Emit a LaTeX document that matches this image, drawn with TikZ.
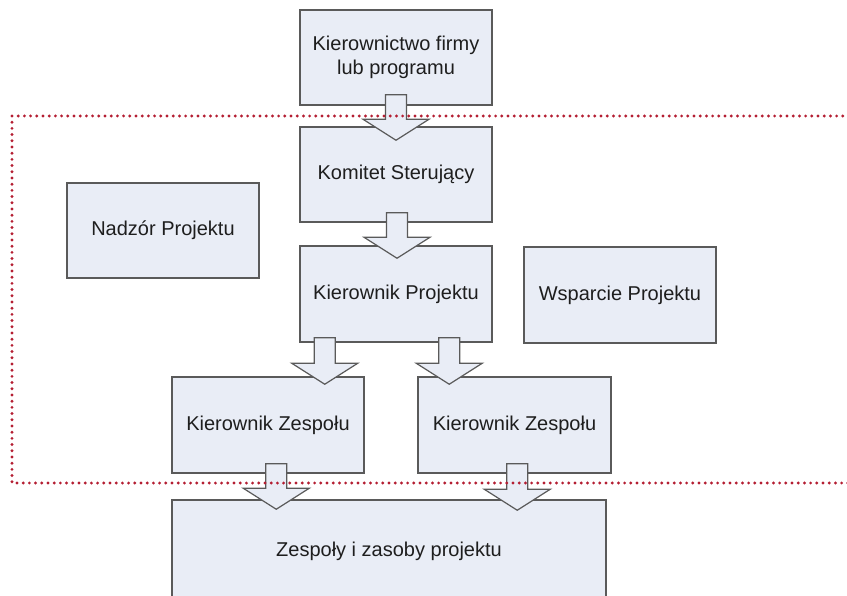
\documentclass[tikz,border=0pt]{standalone}
\usepackage{fontspec}
\setmainfont{Liberation Sans}
\usetikzlibrary{calc}
\definecolor{boxfill}{RGB}{233,237,246}
\definecolor{boxline}{RGB}{90,90,90}
\definecolor{txt}{RGB}{30,30,30}
\definecolor{dotred}{RGB}{180,30,50}
\tikzset{
  unit/.style={draw=boxline, fill=boxfill, line width=1.5pt, text=txt,
    minimum width=192pt, minimum height=95pt, inner sep=0pt,
    font=\fontsize{20}{24.5}\selectfont, align=center},
  blockarr/.style={draw=boxline, fill=boxfill, line width=1.2pt, line join=miter},
  scopeline/.style={draw=dotred, line width=3.2pt, line cap=round,
    dash pattern=on 0pt off 6.2pt}
}
% block arrow: #1 = top of the shaft, #2 = tip
\newcommand{\blockarrow}[2]{%
  \path[blockarr] let \p1=(#1), \p2=(#2) in
    (\x2-10.5pt,\y1) -- (\x2+10.5pt,\y1) -- (\x2+10.5pt,\y2+21pt)
    -- (\x2+33pt,\y2+21pt) -- (\x2,\y2) -- (\x2-33pt,\y2+21pt)
    -- (\x2-10.5pt,\y2+21pt) -- cycle;}
\begin{document}
\begin{tikzpicture}[x=1pt,y=1pt]
  \useasboundingbox (0,0) rectangle (847,-596);
  \clip (0,0) rectangle (847,-596);

  % organisation units
  \node[unit] (kf) at (396,-57.5) {Kierownictwo firmy\\lub programu};
  \node[unit] (ks) at (396,-174.5) {Komitet Sterujący};
  \node[unit] (np) at (163,-230.5) {Nadzór Projektu};
  \node[unit, minimum height=96pt] (kp) at (396,-294) {Kierownik Projektu};
  \node[unit, minimum height=96pt] (wp) at (620,-295) {Wsparcie Projektu};
  \node[unit, minimum height=96pt] (kz1) at (268,-425) {Kierownik Zespołu};
  \node[unit, minimum height=96pt, minimum width=193pt] (kz2) at (514.5,-425) {Kierownik Zespołu};
  \node[unit, minimum width=434pt, minimum height=102pt] (zz) at (389,-551) {Zespoły i zasoby projektu};

  % block arrows between the units
  \coordinate (a1s) at ($(kf.south)+(0,11)$);
  \coordinate (a1e) at ($(ks.north)+(0,-14)$);
  \coordinate (a2s) at ($(ks.south)+(1,10)$);
  \coordinate (a2e) at ($(kp.north)+(1,-13)$);
  \coordinate (a3s) at ($(kp.south west)+(25.5,5)$);
  \coordinate (a3e) at ($(kz1.north west)+(153.5,-8)$);
  \coordinate (a4s) at ($(kp.south west)+(150,5)$);
  \coordinate (a4e) at ($(kz2.north west)+(32,-8)$);
  \coordinate (a5s) at ($(kz1.south west)+(105,10)$);
  \coordinate (a5e) at ($(zz.north west)+(105,-10)$);
  \coordinate (a6s) at ($(kz2.south west)+(100,10)$);
  \coordinate (a6e) at ($(zz.north west)+(346,-11)$);
  \blockarrow{a1s}{a1e}
  \blockarrow{a2s}{a2e}
  \blockarrow{a3s}{a3e}
  \blockarrow{a4s}{a4e}
  \blockarrow{a5s}{a5e}
  \blockarrow{a6s}{a6e}

  % project scope
  \coordinate (sc1) at (12,-116);
  \coordinate (sc2) at (880,-483);
  \draw[scopeline] (sc2 |- sc1) -- (sc1) -- (sc1 |- sc2) -- (sc2);
\end{tikzpicture}
\end{document}
